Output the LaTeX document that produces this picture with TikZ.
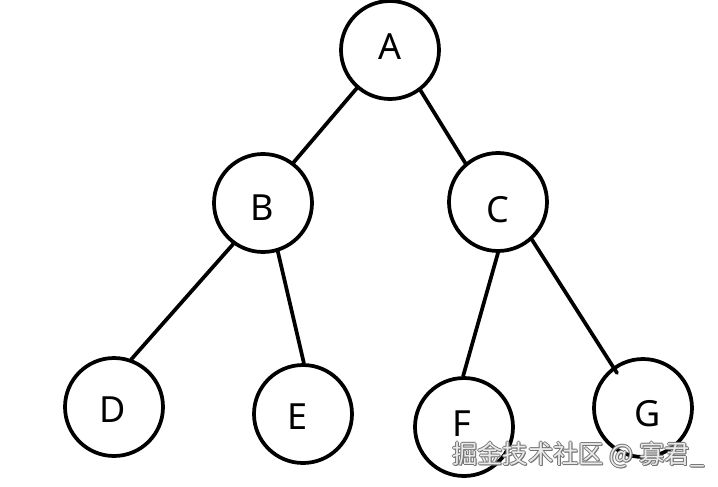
\documentclass[tikz,border=0pt]{standalone}
\usepackage{fontspec}
\setmainfont{Noto Sans}
\newfontfamily\cjkwm{Noto Sans CJK SC}
\begin{document}
\begin{tikzpicture}[x=0.75pt,y=-0.75pt,
  vertex/.style={circle,draw=black,line width=2.8pt,minimum size=73.5pt,inner sep=0pt,font=\fontsize{27}{30}\selectfont},
  edge/.style={line width=2.8pt,line cap=round},
  wm/.style={font=\cjkwm\fontsize{19}{22}\selectfont,inner sep=0pt,anchor=west}]
\useasboundingbox (0,0) rectangle (718,486);
\node[vertex] (A) at (390,50) {};
\node[vertex] (B) at (263,203) {};
\node[vertex] (C) at (498,202) {};
\node[vertex] (D) at (114,407) {};
\node[vertex] (E) at (303,414) {};
\node[vertex] (F) at (464,427) {};
\node[vertex] (G) at (643,408) {};
\node[font=\fontsize{27}{30}\selectfont,inner sep=0pt] (tA) at (390,47) {A};
\node[font=\fontsize{27}{30}\selectfont,inner sep=0pt] (tB) at (262,208) {B};
\node[font=\fontsize{27}{30}\selectfont,inner sep=0pt] (tC) at (498,210) {C};
\node[font=\fontsize{27}{30}\selectfont,inner sep=0pt] (tD) at (113,410) {D};
\node[font=\fontsize{27}{30}\selectfont,inner sep=0pt] (tE) at (298,417) {E};
\node[font=\fontsize{27}{30}\selectfont,inner sep=0pt] (tF) at (462,424) {F};
\node[font=\fontsize{27}{30}\selectfont,inner sep=0pt] (tG) at (648,414) {G};
\coordinate (gend) at (617,373);
\draw[edge] (A.229) -- (B.53);
\draw[edge] (A.307) -- (C.130);
\draw[edge] (B.234) -- (D.70);
\draw[edge] (B.287) -- (E.89);
\draw[edge] (C.270) -- (F.91);
\draw[edge] (C.312) -- (gend);
\foreach \dx/\dy in {-1/0,1/0,0/-1,0/1,1/1}{
  \node[wm,text=black!55] at (452+\dx,455+\dy) {掘金技术社区 @ 寡君\_};
}
\node[wm,text=white!92!black] (wmark) at (452,455) {掘金技术社区 @ 寡君\_};
\end{tikzpicture}
\end{document}
